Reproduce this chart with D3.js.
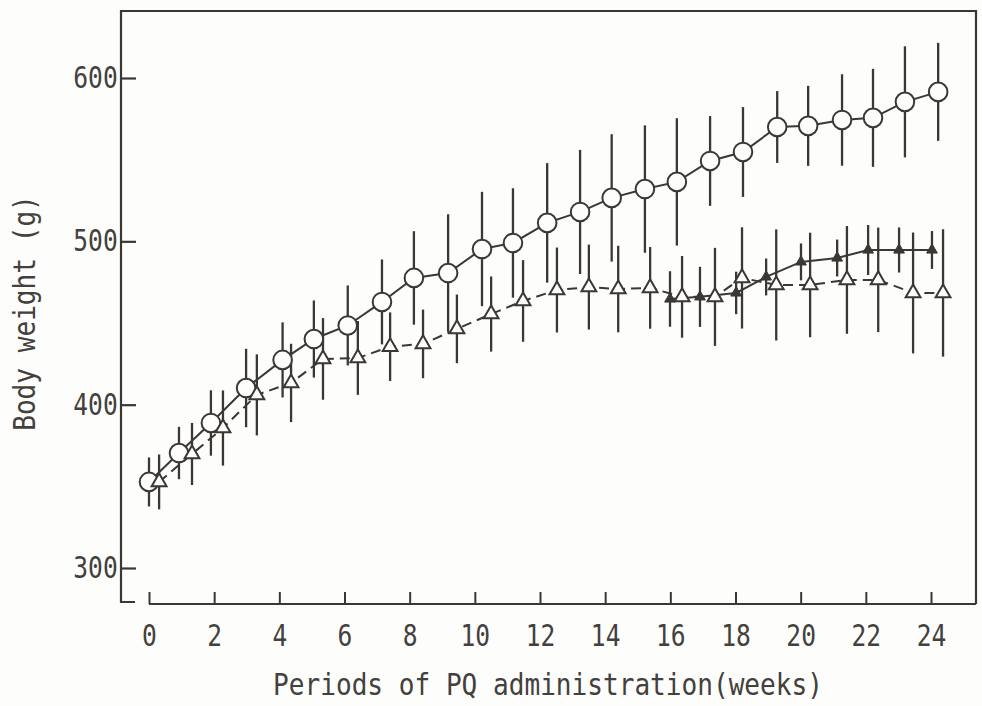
<!DOCTYPE html>
<html>
<head>
<meta charset="utf-8">
<script src="https://cdn.jsdelivr.net/npm/d3@7"></script>
<style>
  body { margin: 0; background: #fdfdfb; }
  text { font-family: "DejaVu Sans Mono", monospace; fill: #43403d; }
</style>
</head>
<body>
<div id="chart"></div>
<script>
var svgWidth = 982;
var svgHeight = 706;

// control group (open circles, solid line)
var ctrlWeeks = [0, 0.92, 1.9, 2.98, 4.1, 5.06, 6.1, 7.15, 8.13, 9.18, 10.22, 11.17, 12.22,
  13.23, 14.2, 15.22, 16.2, 17.22, 18.23, 19.28, 20.23, 21.27, 22.22, 23.2, 24.22];
var ctrlMean = [352.7, 370.4, 388.8, 410.2, 427.4, 440.2, 448.5, 462.9, 477.6, 480.6, 495.3, 499,
  511.3, 518, 526.6, 532, 536.4, 549.2, 554.7, 570, 570.7, 574.3, 575.6, 585.4, 591.5];
var ctrlSD = [15, 16, 20, 24, 23, 23.6, 24.5, 26, 28.6, 36, 35, 33.5,
  36.6, 38, 39, 39, 39, 27.5, 27.5, 22, 24.5, 28, 30, 34, 30];

// PQ group (open triangles, dashed line)
var pqWeeks = [0.31, 1.32, 2.27, 3.31, 4.36, 5.34, 6.41, 7.4, 8.41, 9.45, 10.5, 11.48, 12.52,
  13.5, 14.4, 15.38, 16.36, 17.37, 18.2, 19.25, 20.29, 21.42, 22.38, 23.45, 24.37];
var pqMean = [352.7, 369.8, 385.7, 406, 413.3, 428, 428.6, 435.5, 437.2, 446.4, 455.5, 463.5,
  470.2, 472, 470.8, 471.5, 466, 466, 477.6, 473.3, 473.3, 476.4, 476.4, 468.4, 468.4];
var pqSD = [16.8, 19, 23, 24.8, 24, 25, 22.6, 21, 21, 21, 23, 25,
  26, 26, 26.5, 25, 25, 30, 31, 34, 32, 33, 32, 37, 39];

// PQ withdrawn group (filled triangles, solid line)
var wdWeeks = [15.99, 16.91, 18.02, 18.94, 20.01, 21.12, 22.07, 23.02, 24.03];
var wdMean = [464.7, 466, 468.4, 478.2, 487.4, 489.8, 494.7, 494.7, 494.7];
var wdSD = [17, 18.4, 13, 11.3, 11.3, 11.3, 15.3, 13.8, 11.6];

var xTicks = [0, 2, 4, 6, 8, 10, 12, 14, 16, 18, 20, 22, 24];
var yTicks = [300, 400, 500, 600];

var ink = "#3b3733";
var paper = "#fdfdfb";

var frame = { left: 121, right: 976, top: 11, bottom: 604 };

var svg = d3.select("#chart")
  .append("svg")
  .attr("width", svgWidth)
  .attr("height", svgHeight);

var xScale = d3.scaleLinear().domain([0, 24]).range([149, 931]);
var yScale = d3.scaleLinear().domain([300, 600]).range([568, 78]);

function toRows(weeks, mean, sd) {
  return weeks.map(function(w, i) {
    return { week: w, mean: mean[i], sd: sd[i] };
  });
}
var ctrl = toRows(ctrlWeeks, ctrlMean, ctrlSD);
var pq = toRows(pqWeeks, pqMean, pqSD);
var wd = toRows(wdWeeks, wdMean, wdSD);

// frame: left, top, right sides plus little foot at bottom-left
svg.append("path")
  .attr("d", `M${frame.left + 14},${frame.bottom - 2} H${frame.left} V${frame.top} H${frame.right} V${frame.bottom}`)
  .attr("fill", "none")
  .attr("stroke", ink)
  .attr("stroke-width", 2.2);

// bottom axis line starts at week 0
svg.append("line")
  .attr("x1", xScale(0)).attr("x2", frame.right)
  .attr("y1", frame.bottom).attr("y2", frame.bottom)
  .attr("stroke", ink)
  .attr("stroke-width", 2.2);

// y axis (ticks pointing inward)
var yAxis = svg.append("g")
  .attr("transform", `translate(${frame.left}, 0)`)
  .call(d3.axisLeft(yScale).tickValues(yTicks).tickSizeInner(-15).tickSizeOuter(0).tickPadding(4));
yAxis.select(".domain").remove();
yAxis.selectAll(".tick line").attr("stroke", ink).attr("stroke-width", 2.2);
yAxis.selectAll(".tick text")
  .attr("x", -4)
  .attr("transform", "scale(0.82,1)")
  .style("font-size", "30px")
  .style("font-family", "'DejaVu Sans Mono', monospace")
  .attr("fill", "#43403d");

// x axis (ticks pointing up)
var xAxis = svg.append("g")
  .attr("transform", `translate(0, ${frame.bottom})`)
  .call(d3.axisBottom(xScale).tickValues(xTicks).tickSizeInner(-12).tickSizeOuter(0));
xAxis.select(".domain").remove();
xAxis.selectAll(".tick line").attr("stroke", ink).attr("stroke-width", 2);
xAxis.selectAll(".tick text")
  .attr("y", 32)
  .attr("dy", "0.35em")
  .attr("transform", "scale(0.82,1)")
  .style("font-size", "30px")
  .style("font-family", "'DejaVu Sans Mono', monospace")
  .attr("fill", "#43403d");

// error bars
function drawBars(rows) {
  svg.append("g").selectAll("line")
    .data(rows)
    .enter()
    .append("line")
    .attr("x1", d => xScale(d.week))
    .attr("x2", d => xScale(d.week))
    .attr("y1", d => yScale(d.mean - d.sd))
    .attr("y2", d => yScale(d.mean + d.sd))
    .attr("stroke", ink)
    .attr("stroke-width", 2.3);
}
drawBars(ctrl);
drawBars(pq);
drawBars(wd);

var line = d3.line()
  .x(d => xScale(d.week))
  .y(d => yScale(d.mean));

svg.append("path").datum(ctrl)
  .attr("d", line).attr("fill", "none")
  .attr("stroke", ink).attr("stroke-width", 2);

svg.append("path").datum(pq)
  .attr("d", line).attr("fill", "none")
  .attr("stroke", ink).attr("stroke-width", 2)
  .attr("stroke-dasharray", "10,6");

svg.append("path").datum(wd)
  .attr("d", line).attr("fill", "none")
  .attr("stroke", ink).attr("stroke-width", 2);

// markers
svg.append("g").selectAll("circle")
  .data(ctrl)
  .enter()
  .append("circle")
  .attr("cx", d => xScale(d.week))
  .attr("cy", d => yScale(d.mean))
  .attr("r", 9.3)
  .attr("fill", paper)
  .attr("stroke", ink)
  .attr("stroke-width", 2);

var openTri = d3.symbol().type(d3.symbolTriangle).size(95);
svg.append("g").selectAll("path")
  .data(pq)
  .enter()
  .append("path")
  .attr("d", openTri)
  .attr("transform", d => `translate(${xScale(d.week)}, ${yScale(d.mean)})`)
  .attr("fill", paper)
  .attr("stroke", ink)
  .attr("stroke-width", 2);

var filledTri = d3.symbol().type(d3.symbolTriangle).size(50);
svg.append("g").selectAll("path")
  .data(wd)
  .enter()
  .append("path")
  .attr("d", filledTri)
  .attr("transform", d => `translate(${xScale(d.week)}, ${yScale(d.mean)})`)
  .attr("fill", ink)
  .attr("stroke", ink)
  .attr("stroke-width", 1);

// axis titles
svg.append("text")
  .attr("transform", "translate(548, 684) scale(0.87,1)")
  .attr("dy", "0.35em")
  .attr("text-anchor", "middle")
  .style("font-size", "30px")
  .text("Periods of PQ administration(weeks)");

svg.append("text")
  .attr("transform", "translate(24, 313) rotate(-90) scale(0.87,1)")
  .attr("dy", "0.35em")
  .attr("text-anchor", "middle")
  .style("font-size", "30px")
  .text("Body weight (g)");
</script>
</body>
</html>
